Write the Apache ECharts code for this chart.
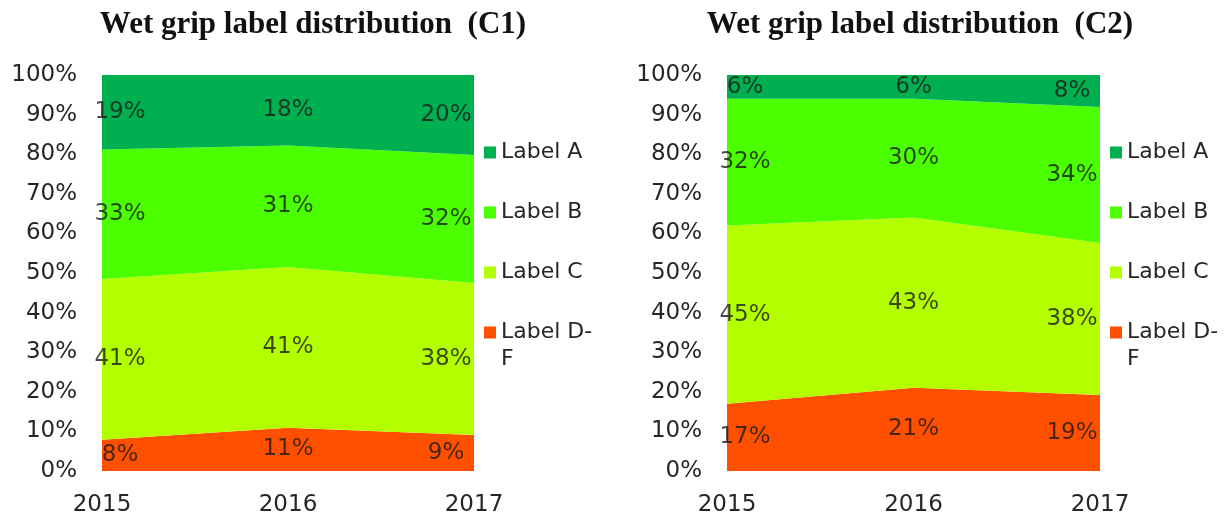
<!DOCTYPE html>
<html>
<head>
<meta charset="utf-8">
<script src="https://cdn.jsdelivr.net/npm/echarts@6/dist/echarts.min.js"></script>
<style>
  html, body { margin: 0; padding: 0; background: #fff; }
  #chart { width: 1225px; height: 517px; }
</style>
</head>
<body>
<div id="chart"></div>
<script>
const years = ['2015', '2016', '2017']
const labelNames = ['Label A', 'Label B', 'Label C', 'Label D-F']
const colors = ['#00b050', '#4cff00', '#b3ff00', '#ff5000']

// C1 shares (%) as printed on the chart
const c1A = [19, 18, 20]
const c1B = [33, 31, 32]
const c1C = [41, 41, 38]
const c1DF = [8, 11, 9]

// C2 shares (%)
const c2A = [6, 6, 8]
const c2B = [32, 30, 34]
const c2C = [45, 43, 38]
const c2DF = [17, 21, 19]

const yTicks = [0, 10, 20, 30, 40, 50, 60, 70, 80, 90, 100]

const axisFont = { fontFamily: 'DejaVu Sans', fontSize: 23, color: '#262626' }
const legendFont = { fontFamily: 'DejaVu Sans', fontSize: 22, color: '#262626' }

// series go bottom-up so the stack matches the picture
const buildSeries = (idx, sets) => {
  const totals = years.map((_, i) => sets.reduce((s, arr) => s + arr[i], 0))
  const norm = sets.map(arr => arr.map((v, i) => v / totals[i] * 100))
  const out = []
  const order = [3, 2, 1, 0] // D-F, C, B, A
  const cum = years.map(() => 0)
  order.forEach(k => {
    out.push({
      name: labelNames[k],
      type: 'line',
      stack: 'c' + idx,
      xAxisIndex: idx,
      yAxisIndex: idx,
      symbol: 'none',
      lineStyle: { width: 0 },
      areaStyle: { color: colors[k], opacity: 1 },
      itemStyle: { color: colors[k] },
      data: norm[k],
      silent: true
    })
    // value labels sit in the middle of each band
    const mids = norm[k].map((v, i) => {
      const m = cum[i] + v / 2
      cum[i] += v
      return m
    })
    out.push({
      name: 'lbl' + idx + k,
      type: 'scatter',
      xAxisIndex: idx,
      yAxisIndex: idx,
      symbolSize: 0,
      silent: true,
      z: 5,
      data: mids.map((m, i) => ({
        value: [i, m],
        raw: sets[k][i],
        label: { offset: i === 0 ? [18, 0] : i === 2 ? [-28, 0] : [0, 0] }
      })),
      label: {
        show: true,
        position: 'inside',
        fontFamily: 'DejaVu Sans',
        fontSize: 23,
        color: '#1a1a1a',
        formatter: p => p.data.raw + '%'
      }
    })
  })
  return out
}

const legendTop = 134
const legendFor = (left) => ({
  orient: 'vertical',
  left: left,
  top: legendTop,
  padding: 5,
  itemWidth: 12,
  itemHeight: 12,
  itemGap: 33,
  itemTextGap: 5,
  icon: 'rect',
  selectedMode: false,
  textStyle: { ...legendFont, lineHeight: 27 },
  // "Label D-F" wraps in the original; second line added below
  formatter: n => n === 'Label D-F' ? 'Label D-' : n,
  data: labelNames
})

// wrapped remainder of the last legend entry
const legendTail = (left) => ({
  type: 'text',
  left: left + 5 + 17,
  top: legendTop + 5 + 3 * 60 + 27,
  silent: true,
  style: { text: 'F', ...legendFont, fill: legendFont.color, lineHeight: 27 }
})

const titleFont = { fontFamily: 'Liberation Serif', fontWeight: 'bold', fontSize: 31, color: '#111' }

const chart = echarts.init(document.getElementById('chart'))

chart.setOption({
  animation: false,
  title: [{
    text: 'Wet grip label distribution  (C1)',
    left: 308,
    textAlign: 'center',
    top: 4,
    textStyle: titleFont
  }, {
    text: 'Wet grip label distribution  (C2)',
    left: 915,
    textAlign: 'center',
    top: 4,
    textStyle: titleFont
  }],
  legend: [legendFor(479), legendFor(1105)],
  graphic: [legendTail(479), legendTail(1105)],
  grid: [
    { left: 102, right: 751, top: 75, bottom: 46 },
    { left: 727, right: 125, top: 75, bottom: 46 }
  ],
  xAxis: [0, 1].map(i => ({
    type: 'category',
    gridIndex: i,
    data: years,
    boundaryGap: false,
    axisLine: { show: false },
    axisTick: { show: false },
    axisLabel: { ...axisFont, margin: 23, interval: 0 }
  })),
  yAxis: [0, 1].map(i => ({
    type: 'value',
    gridIndex: i,
    min: yTicks[0],
    max: yTicks[yTicks.length - 1],
    interval: 10,
    splitLine: { show: false },
    axisLine: { show: false },
    axisTick: { show: false },
    axisLabel: { ...axisFont, margin: 25, formatter: '{value}%' }
  })),
  series: [
    ...buildSeries(0, [c1A, c1B, c1C, c1DF]),
    ...buildSeries(1, [c2A, c2B, c2C, c2DF])
  ]
})

window.addEventListener('resize', () => chart.resize())
</script>
</body>
</html>
